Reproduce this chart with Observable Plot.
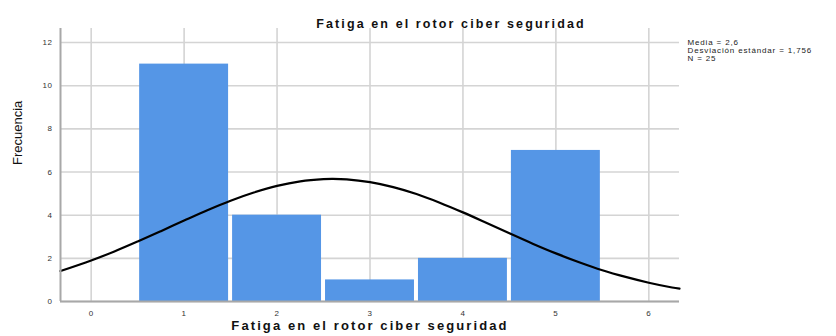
<!DOCTYPE html>
<html>
<head>
<meta charset="utf-8">
<script src="https://cdn.jsdelivr.net/npm/d3@7"></script>
<script src="https://cdn.jsdelivr.net/npm/@observablehq/plot@0.6"></script>
<style>
  html, body { margin: 0; padding: 0; background: #fff; }
  svg { font-family: "Liberation Sans", Arial, sans-serif; }
</style>
</head>
<body>
<div id="chart"></div>
<script>
const title = "Fatiga en el rotor ciber seguridad";
const xLabel = "Fatiga en el rotor ciber seguridad";
const yLabel = "Frecuencia";
const categories = [1, 2, 3, 4, 5];
const frequencies = [11, 4, 1, 2, 7];
const xTicks = [0, 1, 2, 3, 4, 5, 6];
const yTicks = [0, 2, 4, 6, 8, 10, 12];
const statsLines = ["Media = 2,6", "Desviación estándar = 1,756", "N = 25"];
// normal curve values
const curveX = [-0.33, 0, 0.25, 0.5, 0.75, 1, 1.25, 1.5, 1.75, 2, 2.25, 2.5, 2.6, 2.75, 3, 3.25, 3.5, 3.75, 4, 4.25, 4.5, 4.75, 5, 5.25, 5.5, 5.75, 6, 6.25, 6.33];
const curveY = [1.41, 1.90, 2.32, 2.78, 3.26, 3.75, 4.23, 4.67, 5.05, 5.36, 5.57, 5.67, 5.68, 5.66, 5.53, 5.30, 4.98, 4.58, 4.13, 3.65, 3.16, 2.68, 2.23, 1.82, 1.45, 1.14, 0.87, 0.65, 0.60];

const bars = categories.map((c, i) => ({x1: c - 0.5, x2: c + 0.5, y: frequencies[i]}));
const curve = curveX.map((x, i) => ({x, y: curveY[i]}));

const chart = Plot.plot({
  width: 836,
  height: 336,
  marginLeft: 60,
  marginRight: 157,
  marginTop: 28,
  marginBottom: 35,
  x: {domain: [-0.33, 6.33]},
  y: {domain: [0, 12.65]},
  marks: [
    Plot.gridX(xTicks, {stroke: "#d4d4d4", strokeOpacity: 1, strokeWidth: 1.6}),
    Plot.gridY(yTicks, {stroke: "#d4d4d4", strokeOpacity: 1, strokeWidth: 1.6}),
    Plot.rectY(bars, {x1: "x1", x2: "x2", y: "y", fill: "#5596e6", insetLeft: 2, insetRight: 2}),
    Plot.line(curve, {x: "x", y: "y", stroke: "#000", strokeWidth: 2.2, curve: "catmull-rom"}),
    Plot.ruleY([0], {stroke: "#a8a8a8", strokeWidth: 2}),
    Plot.ruleX([-0.33], {stroke: "#a8a8a8", strokeWidth: 2}),
    Plot.axisX(xTicks, {tickSize: 0, tickPadding: 9, fontSize: 8, fill: "#333", label: null}),
    Plot.axisY(yTicks, {tickSize: 0, tickPadding: 8, fontSize: 8, fill: "#333", label: null}),
    Plot.text([xLabel], {frameAnchor: "bottom", dy: 28, fontSize: 13, fontWeight: "bold", fill: "#111"}),
    Plot.text([title], {frameAnchor: "top", dx: 81, dy: -9, fontSize: 12.5, fontWeight: "bold", fill: "#111"}),
    Plot.text([yLabel], {frameAnchor: "left", dx: -43, rotate: -90, fontSize: 13, fill: "#111", fontFamily: "'Liberation Sans Narrow', 'Arial Narrow', sans-serif"}),
    Plot.text([statsLines.join("\n")], {frameAnchor: "top-right", dx: 8, dy: 11, textAnchor: "start", lineHeight: 1.0, fontSize: 8, fill: "#222"})
  ]
});
// letter spacing similar to the reference's tracked text
d3.select(chart).selectAll("text").each(function () {
  const t = this.textContent;
  const s = d3.select(this);
  if (t === title || t === xLabel) s.attr("letter-spacing", "2.1px");
  else if (t === statsLines.join("") || t.startsWith("Media")) s.attr("letter-spacing", "0.85px");
  else if (t !== yLabel && t.length <= 2) s.attr("letter-spacing", "0.6px");
});
document.getElementById("chart").append(chart);
</script>
</body>
</html>
